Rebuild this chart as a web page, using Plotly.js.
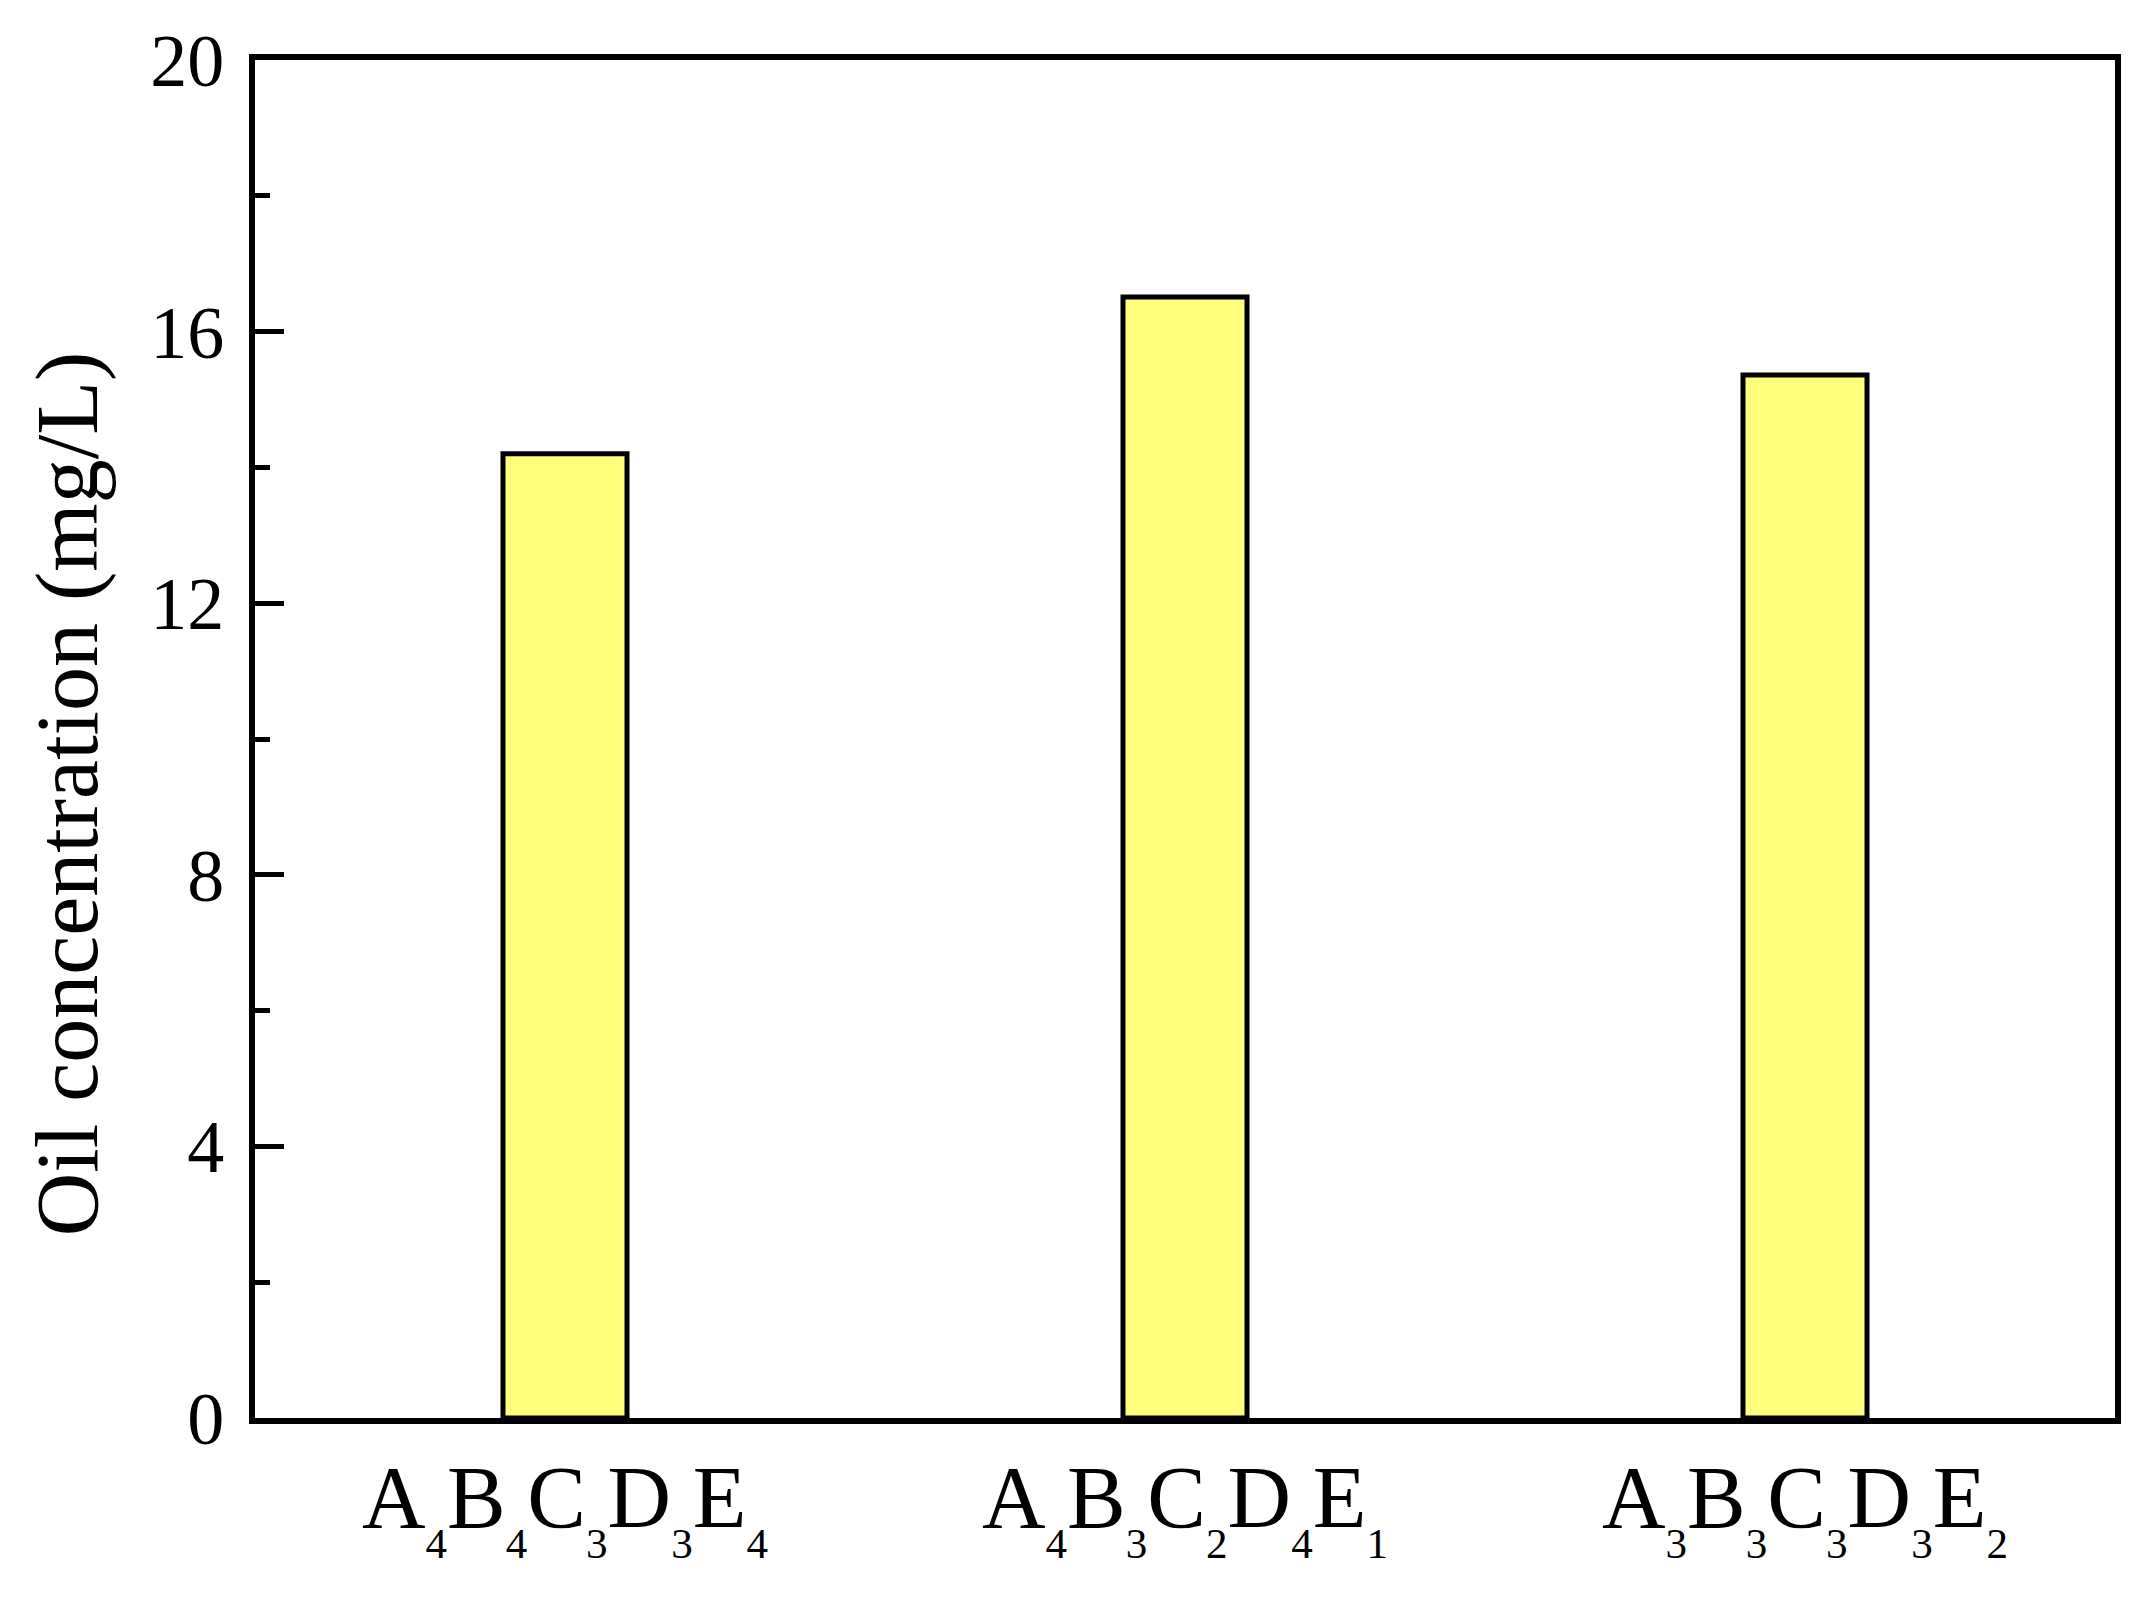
<!DOCTYPE html>
<html>
<head>
<meta charset="utf-8">
<script src="https://cdn.plot.ly/plotly-3.0.1.min.js"></script>
<style>html,body{margin:0;padding:0;background:#fff;}</style>
</head>
<body>
<div id="chart" style="width:2152px;height:1598px;"></div>
<script>
// Data
const categories = ["A4B4C3D3E4", "A4B3C2D4E1", "A3B3C3D3E2"];
const tickLabels = [
  "A<sub><sub>4</sub></sub>B<sub><sub>4</sub></sub>C<sub><sub>3</sub></sub>D<sub><sub>3</sub></sub>E<sub><sub>4</sub></sub>",
  "A<sub><sub>4</sub></sub>B<sub><sub>3</sub></sub>C<sub><sub>2</sub></sub>D<sub><sub>4</sub></sub>E<sub><sub>1</sub></sub>",
  "A<sub><sub>3</sub></sub>B<sub><sub>3</sub></sub>C<sub><sub>3</sub></sub>D<sub><sub>3</sub></sub>E<sub><sub>2</sub></sub>"
];
const oilConcentration = [14.2, 16.51, 15.36];
const yTickValues = [0, 4, 8, 12, 16, 20];
const yTitle = "Oil concentration (mg/L)";

const font = "Liberation Serif, Times New Roman, serif";

const trace = {
  type: "bar",
  x: categories,
  y: oilConcentration,
  width: 0.2,
  marker: { color: "#FFFF7D", line: { color: "#000000", width: 5 } },
  hoverinfo: "x+y"
};

const layout = {
  width: 2152,
  height: 1598,
  margin: { l: 255, r: 37, t: 60, b: 180, pad: 0 },
  paper_bgcolor: "#ffffff",
  plot_bgcolor: "#ffffff",
  showlegend: false,
  bargap: 0.8,
  xaxis: {
    type: "category",
    range: [-0.5, 2.5],
    tickmode: "array",
    tickvals: categories,
    ticktext: tickLabels,
    ticks: "",
    showgrid: false,
    zeroline: false,
    showline: true,
    linecolor: "#000000",
    linewidth: 6,
    mirror: true,
    tickfont: { family: font, size: 88, color: "#000000" },
    ticklabelstandoff: -3,
    automargin: false,
    fixedrange: true
  },
  yaxis: {
    range: [0, 20],
    tickmode: "array",
    tickvals: yTickValues,
    ticktext: yTickValues.map(String),
    ticks: "inside",
    ticklen: 29,
    tickwidth: 5,
    tickcolor: "#000000",
    minor: { dtick: 2, tick0: 0, ticks: "inside", ticklen: 15, tickwidth: 5, tickcolor: "#000000", showgrid: false },
    showgrid: false,
    zeroline: false,
    showline: true,
    linecolor: "#000000",
    linewidth: 6,
    mirror: true,
    tickfont: { family: font, size: 74, color: "#000000" },
    ticklabelstandoff: 10,
    automargin: false,
    fixedrange: true,
    title: { text: yTitle + "\u00A0\u00A0\u00A0\u00A0\u00A0\u200B", font: { family: font, size: 88, color: "#000000" }, standoff: 25 }
  }
};

Plotly.newPlot("chart", [trace], layout, { displayModeBar: false, staticPlot: true });
</script>
</body>
</html>
